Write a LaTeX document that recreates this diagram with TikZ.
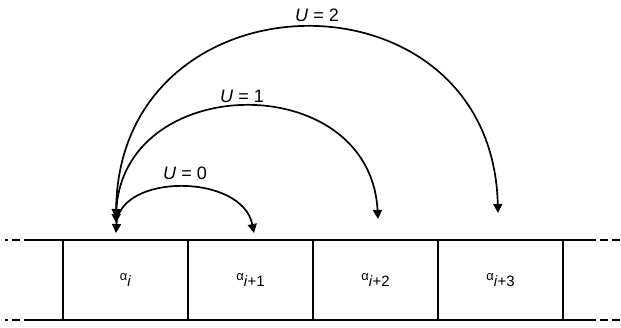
\documentclass[tikz,border=0pt]{standalone}
\usepackage{fontspec}
\setmainfont{Liberation Sans}
\usetikzlibrary{arrows.meta,positioning}
\newcommand{\elem}[2]{{\fontsize{13}{13}\selectfont\raisebox{6.5pt}{α}}\textit{#1}#2}

\begin{document}
\begin{tikzpicture}[
    x=1pt,y=-1pt,
    font=\fontsize{15}{17}\selectfont,
    cell/.style={draw,line width=1.4pt,minimum width=125pt,minimum height=80pt,inner sep=0pt,outer sep=0pt},
    rail/.style={line width=1.6pt},
    jump/.style={arrows={Triangle[length=9pt,width=9pt]-Triangle[length=9pt,width=9pt]},line width=1.7pt},
    lbl/.style={font=\fontsize{18}{20}\selectfont}
  ]
    \useasboundingbox (0,0) rectangle (621,327);
    % the array cells
    \node[cell] (c1) at (125.5,280) {\elem{i}{}};
    \node[cell,right=0pt of c1] (c2) {\elem{i}{+1}};
    \node[cell,right=0pt of c2] (c3) {\elem{i}{+2}};
    \node[cell,right=0pt of c3] (c4) {\elem{i}{+3}};
    % rails, continued by dashes
    \draw[rail] ([xshift=-31pt]c1.north west) -- ([xshift=25pt]c4.north east);
    \draw[rail] ([xshift=-31pt]c1.south west) -- ([xshift=25pt]c4.south east);
    \draw[rail,dash pattern=on 8pt off 4pt] ([xshift=-31pt]c1.north west) -- ([xshift=-58pt]c1.north west);
    \draw[rail,dash pattern=on 8pt off 4pt] ([xshift=-31pt]c1.south west) -- ([xshift=-58pt]c1.south west);
    \draw[rail,dash pattern=on 8pt off 4pt] ([xshift=25pt]c4.north east) -- ([xshift=58pt]c4.north east);
    \draw[rail,dash pattern=on 8pt off 4pt] ([xshift=25pt]c4.south east) -- ([xshift=58pt]c4.south east);
    % arc end points
    \coordinate (s0) at (116,233);
    \coordinate (e0) at (254,233);
    \coordinate (s1) at (116,223);
    \coordinate (e1) at (378,219);
    \coordinate (s2) at (116,218);
    \coordinate (e2) at (498,213);
    \draw[jump] (s0) .. controls ([xshift=3pt,yshift=60pt]s0) and ([xshift=-12pt,yshift=60pt]e0) .. (e0);
    \draw[jump] (s1) .. controls ([xshift=3pt,yshift=152pt]s1) and ([xshift=-8pt,yshift=152pt]e1) .. (e1);
    \draw[jump] (s2) .. controls ([xshift=3pt,yshift=250pt]s2) and ([xshift=-6pt,yshift=250pt]e2) .. (e2);
    % labels
    \node[lbl] (u0) at (185,173) {\textit{U} = 0};
    \node[lbl] (u1) at (242,96) {\textit{U} = 1};
    \node[lbl] (u2) at (317,15) {\textit{U} = 2};
\end{tikzpicture}
\end{document}
